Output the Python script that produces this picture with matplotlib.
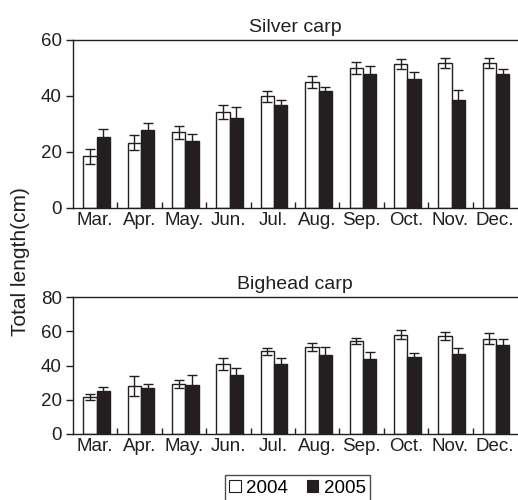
import matplotlib
matplotlib.use("Agg")
import matplotlib.pyplot as plt
import numpy as np
from matplotlib.patches import Patch

plt.rcParams['font.family'] = ['Liberation Sans', 'DejaVu Sans']

months = ["Mar.", "Apr.", "May.", "Jun.", "Jul.", "Aug.", "Sep.", "Oct.", "Nov.", "Dec."]
years = ["2004", "2005"]

silver_2004 = [18.4, 23.3, 27.0, 34.4, 39.9, 44.9, 50.1, 51.3, 51.7, 51.7]
silver_2004_err = [2.7, 2.6, 2.3, 2.5, 2.0, 2.2, 2.2, 1.8, 1.8, 1.8]
silver_2005 = [25.5, 28.0, 24.0, 32.1, 36.9, 41.8, 48.0, 46.0, 38.5, 48.0]
silver_2005_err = [2.7, 2.5, 2.6, 4.0, 1.8, 1.5, 2.8, 2.6, 3.7, 1.8]

bighead_2004 = [21.4, 27.8, 29.1, 40.8, 48.2, 50.7, 54.4, 58.1, 57.3, 55.7]
bighead_2004_err = [1.7, 5.8, 2.5, 3.3, 1.9, 2.5, 1.7, 2.5, 2.5, 3.3]
bighead_2005 = [25.4, 26.6, 28.5, 34.2, 41.0, 46.4, 43.9, 45.2, 47.0, 52.0]
bighead_2005_err = [1.8, 2.5, 6.2, 4.1, 3.1, 4.3, 4.1, 2.2, 3.1, 3.7]

fig = plt.figure(figsize=(5.18, 5.0), dpi=100)
L, R = 73 / 518, 517 / 518
ax1 = fig.add_axes([L, 1 - 208 / 500, R - L, (208 - 40) / 500])
ax2 = fig.add_axes([L, 1 - 434 / 500, R - L, (434 - 297) / 500])

dark = "#231f20"
fs = 13.5
w = 0.3
x = np.arange(len(months))

def panel(ax, v04, e04, v05, e05, title, ymax):
    ek = dict(ecolor=dark, elinewidth=1.0, capsize=3.5, capthick=1.0)
    ax.bar(x - w / 2 + 0.03, v04, w, color="white", edgecolor=dark, linewidth=1.0,
           yerr=e04, error_kw=ek, zorder=2)
    ax.bar(x + w / 2 + 0.03, v05, w, color=dark, edgecolor=dark, linewidth=1.0,
           yerr=e05, error_kw=ek, zorder=2)
    ax.set_xlim(-0.5, len(months) - 0.5)
    ax.set_ylim(0, ymax)
    ax.set_yticks(np.arange(0, ymax + 1, 20))
    ax.set_xticks(x)
    ax.set_xticklabels(months)
    ax.set_xticks(np.arange(0.5, len(months) - 0.5, 1), minor=True)
    ax.tick_params(axis='x', which='major', length=0, labelsize=fs, pad=3, colors=dark)
    ax.tick_params(axis='x', which='minor', direction='in', length=4, width=1, colors=dark)
    ax.tick_params(axis='y', direction='out', length=5, width=1, labelsize=fs, pad=3, colors=dark)
    ax.spines['right'].set_visible(False)
    for s in ['left', 'top', 'bottom']:
        ax.spines[s].set_linewidth(1.0)
        ax.spines[s].set_color(dark)
    ax.set_title(title, fontsize=14, pad=6, color=dark)

panel(ax1, silver_2004, silver_2004_err, silver_2005, silver_2005_err, "Silver carp", 60)
panel(ax2, bighead_2004, bighead_2004_err, bighead_2005, bighead_2005_err, "Bighead carp", 80)

fig.text(21 / 518, 1 - 262 / 500, "Total length(cm)", rotation=90, ha='center', va='center',
         fontsize=15, color=dark)

handles = [Patch(facecolor="white", edgecolor=dark, linewidth=0.8),
           Patch(facecolor=dark, edgecolor=dark, linewidth=0.8)]
leg = fig.legend(handles, years, loc='upper center', bbox_to_anchor=(297.5 / 518, 1 - 475 / 500),
                 ncol=2, frameon=True, fancybox=False, fontsize=fs, handlelength=0.6,
                 handleheight=0.6, handletextpad=0.3, columnspacing=1.0, borderpad=0.25,
                 borderaxespad=0)
leg.get_frame().set_edgecolor(dark)
leg.get_frame().set_linewidth(1.0)

fig.savefig("out.png", dpi=100)
